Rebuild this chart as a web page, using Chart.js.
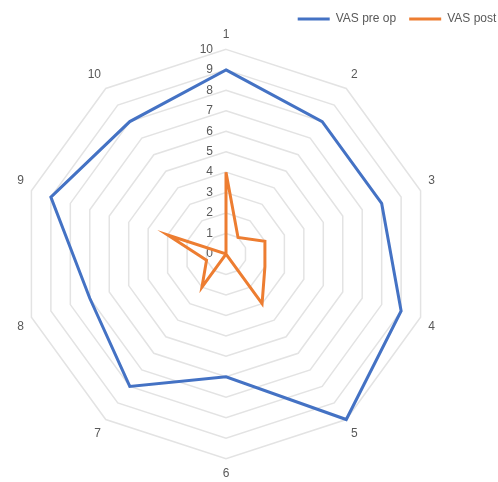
<!DOCTYPE html>
<html lang="en">
<head>
  <meta charset="UTF-8" />
  <title>VAS pre op / post op</title>
  <script src="https://cdn.jsdelivr.net/npm/chart.js"></script>
  <style>
    html, body {
      margin: 0;
      background: #fff;
      overflow: hidden;
    }
    /* wider than the window so the legend runs off the right edge */
    .wrap {
      position: absolute;
      left: -74px;
      top: 0;
      width: 600px;
      height: 482px;
    }
  </style>
</head>
<body>
  <div class="wrap"><canvas id="vasChart"></canvas></div>

  <script>
    const axisLabels = ['1', '2', '3', '4', '5', '6', '7', '8', '9', '10'];
    const vasPreOp  = [9, 8, 8, 9, 10, 6, 8, 7, 9, 8];
    const vasPostOp = [4, 1, 2, 2, 3, 0, 2, 1, 3, 0];
    const scaleTicks = [0, 1, 2, 3, 4, 5, 6, 7, 8, 9, 10];

    const labelFont = '"Liberation Sans", Arial, sans-serif';
    const textGrey = '#595959';

    // value labels up the first spoke, including the 0 in the middle
    const spokeTicks = {
      id: 'spokeTicks',
      beforeDatasetsDraw(chart) {
        const r = chart.scales.r;
        const ctx = chart.ctx;
        ctx.save();
        ctx.font = '12px ' + labelFont;
        ctx.fillStyle = textGrey;
        ctx.textAlign = 'right';
        ctx.textBaseline = 'middle';
        scaleTicks.forEach(v => {
          const p = r.getPointPositionForValue(0, v);
          ctx.fillText(String(v), p.x - 13, p.y);
        });
        ctx.restore();
      }
    };

    new Chart(document.getElementById('vasChart'), {
      type: 'radar',
      data: {
        labels: axisLabels,
        datasets: [
          {
            label: 'VAS pre op',
            data: vasPreOp,
            borderColor: '#4472C4',
            backgroundColor: '#4472C4',
            borderWidth: 3,
            fill: false,
            pointRadius: 0,
            tension: 0
          },
          {
            label: 'VAS post op',
            data: vasPostOp,
            borderColor: '#ED7D31',
            backgroundColor: '#ED7D31',
            borderWidth: 3,
            fill: false,
            pointRadius: 0,
            tension: 0
          }
        ]
      },
      options: {
        responsive: true,
        maintainAspectRatio: false,
        animation: false,
        plugins: {
          legend: {
            position: 'top',
            align: 'end',
            maxHeight: 27,
            labels: {
              usePointStyle: true,
              pointStyle: 'line',
              pointStyleWidth: 32,
              color: textGrey,
              font: { family: labelFont, size: 12 },
              padding: 13
            }
          },
          tooltip: { enabled: false }
        },
        scales: {
          r: {
            min: 0,
            max: 10,
            ticks: { stepSize: 1, display: false },
            grid: { color: '#e3e3e3', lineWidth: 1.5 },
            angleLines: { display: false },
            pointLabels: {
              color: textGrey,
              font: { family: labelFont, size: 12 },
              padding: 8
            }
          }
        }
      },
      plugins: [spokeTicks]
    });
  </script>
</body>
</html>
